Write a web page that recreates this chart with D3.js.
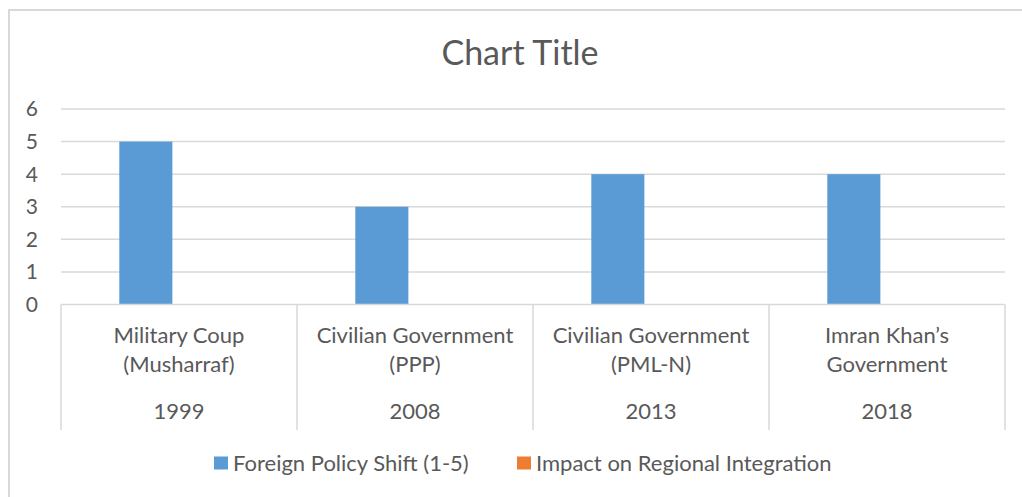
<!DOCTYPE html>
<html lang="en">
<head>
    <meta charset="UTF-8">
    <title>Chart Title</title>
    <script src="https://d3js.org/d3.v7.min.js"></script>
    <style>
        body { margin: 0; background: #fff; }
        text { font-family: Lato, "Open Sans", sans-serif; fill: #595959; }
    </style>
</head>
<body>
    <svg width="1022" height="497"></svg>
    <script>
        // Chart data
        const categories = ["Military Coup|(Musharraf)", "Civilian Government|(PPP)", "Civilian Government|(PML-N)", "Imran Khan\u2019s|Government"];
        const years = ["1999", "2008", "2013", "2018"];
        const seriesNames = ["Foreign Policy Shift (1-5)", "Impact on Regional Integration"];
        const policyShift = [5, 3, 4, 4];
        const regionalImpact = [null, null, null, null];
        const yTicks = [0, 1, 2, 3, 4, 5, 6];
        const colors = ["#5B9BD5", "#ED7D31"];

        const svg = d3.select("svg");

        // chart border (runs off the right/bottom of the picture)
        svg.append("rect")
            .attr("x", 9).attr("y", 10)
            .attr("width", 1100).attr("height", 600)
            .attr("fill", "none")
            .attr("stroke", "#D9D9D9")
            .attr("stroke-width", 2);

        const plot = { left: 61, right: 1005, top: 109, bottom: 304.5 };

        const y = d3.scaleLinear().domain([0, 6]).range([plot.bottom, plot.top]);

        const x0 = d3.scaleBand()
            .domain(d3.range(categories.length))
            .range([plot.left, plot.right])
            .paddingInner(0.494)
            .paddingOuter(0.247);

        const x1 = d3.scaleBand()
            .domain(d3.range(seriesNames.length))
            .range([0, x0.bandwidth()])
            .paddingInner(0.2);

        // title
        svg.append("text")
            .attr("x", 520)
            .attr("y", 65)
            .attr("text-anchor", "middle")
            .attr("font-size", "34px")
            .text("Chart Title");

        // gridlines
        svg.append("g")
            .selectAll("line")
            .data(yTicks.filter(d => d > 0))
            .join("line")
                .attr("x1", plot.left).attr("x2", plot.right)
                .attr("y1", d => y(d)).attr("y2", d => y(d))
                .attr("stroke", "#D9D9D9")
                .attr("stroke-width", 1.5);

        // y tick labels
        svg.append("g")
            .selectAll("text")
            .data(yTicks)
            .join("text")
                .attr("x", 38)
                .attr("y", d => y(d))
                .attr("dy", "0.35em")
                .attr("text-anchor", "end")
                .attr("font-size", "21px")
                .text(d => d);

        // bars
        const series = [policyShift, regionalImpact];
        series.forEach((vals, si) => {
            svg.append("g")
                .selectAll("rect")
                .data(vals.map((v, i) => ({ i, v })).filter(d => d.v != null))
                .join("rect")
                    .attr("x", d => x0(d.i) + x1(si))
                    .attr("y", d => y(d.v))
                    .attr("width", x1.bandwidth())
                    .attr("height", d => y(0) - y(d.v))
                    .attr("fill", colors[si]);
        });

        // category axis line + separators
        svg.append("line")
            .attr("x1", plot.left).attr("x2", plot.right)
            .attr("y1", plot.bottom).attr("y2", plot.bottom)
            .attr("stroke", "#D9D9D9")
            .attr("stroke-width", 1.5);

        const step = x0.step();
        svg.append("g")
            .selectAll("line")
            .data(d3.range(categories.length + 1))
            .join("line")
                .attr("x1", d => plot.left + d * step)
                .attr("x2", d => plot.left + d * step)
                .attr("y1", plot.bottom)
                .attr("y2", 430)
                .attr("stroke", "#D9D9D9")
                .attr("stroke-width", 1.5);

        // category labels (two lines)
        const catLabels = svg.append("g")
            .selectAll("text")
            .data(categories)
            .join("text")
                .attr("x", (d, i) => plot.left + (i + 0.5) * step)
                .attr("y", 343)
                .attr("text-anchor", "middle")
                .attr("font-size", "22px");
        catLabels.each(function (d, i) {
            const parts = d.split("|");
            d3.select(this).selectAll("tspan")
                .data(parts)
                .join("tspan")
                    .attr("x", plot.left + (i + 0.5) * step)
                    .attr("dy", (p, k) => k === 0 ? 0 : 29)
                    .text(p => p);
        });

        // year labels
        svg.append("g")
            .selectAll("text")
            .data(years)
            .join("text")
                .attr("x", (d, i) => plot.left + (i + 0.5) * step)
                .attr("y", 419)
                .attr("text-anchor", "middle")
                .attr("font-size", "22px")
                .text(d => d);

        // legend
        const legendX = [214, 517];
        const legend = svg.append("g")
            .selectAll("g")
            .data(seriesNames)
            .join("g")
                .attr("transform", (d, i) => `translate(${legendX[i]},463)`);
        legend.append("rect")
            .attr("x", 0).attr("y", -6.5)
            .attr("width", 14).attr("height", 13)
            .attr("fill", (d, i) => colors[i]);
        legend.append("text")
            .attr("x", 19)
            .attr("dy", "0.35em")
            .attr("font-size", "22px")
            .text(d => d);
    </script>
</body>
</html>
